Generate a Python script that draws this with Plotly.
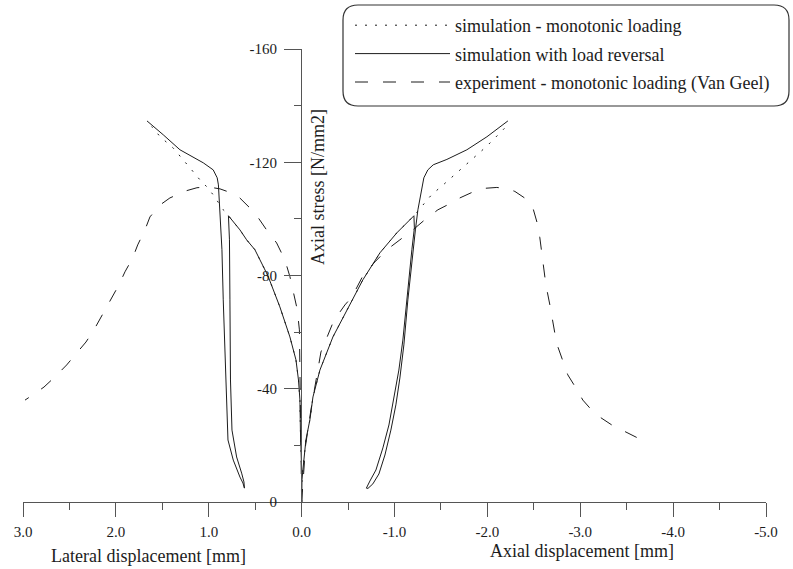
import plotly.graph_objects as go

# ---------------- data (displacement [mm], axial stress [N/mm2]) ----------------
# simulation with load reversal - lateral side (loading, unloading, reloading)
rev_lat_x = [0.0, 0.0, 0.013, 0.018, 0.034, 0.061, 0.126, 0.234, 0.363, 0.503, 0.592, 0.664, 0.788,
             0.777, 0.772, 0.766, 0.750, 0.700, 0.646, 0.621, 0.616,
             0.632, 0.664, 0.736, 0.793, 0.807, 0.831, 0.844, 0.858, 0.872, 0.885, 0.896, 0.909,
             0.952, 1.059, 1.310, 1.490, 1.665]
rev_lat_y = [0, -11.3, -25.4, -36.0, -43.1, -50.2, -58.3, -68.9, -79.9, -89.1, -92.6, -96.1, -101.1,
             -92.6, -71.4, -43.1, -25.4, -15.9, -10.2, -7.1, -4.9,
             -6.7, -8.8, -14.8, -21.9, -36.0, -53.7, -71.4, -89.1, -99.7, -106.7, -112.0, -114.5,
             -117.3, -119.8, -124.4, -129.7, -134.6]
# simulation with load reversal - axial side
rev_ax_x = [0.0, -0.003, -0.046, -0.089, -0.122, -0.154, -0.197, -0.337, -0.488, -0.660, -0.843, -1.026, -1.209,
            -1.214, -1.187, -1.144, -1.090, -1.047, -0.993, -0.940, -0.875, -0.800, -0.735, -0.697,
            -0.714, -0.767, -0.832, -0.897, -0.961, -1.015, -1.058, -1.101, -1.144, -1.187, -1.225,
            -1.252, -1.284, -1.316, -1.359, -1.417, -1.564, -1.779, -1.995, -2.221]
rev_ax_y = [0, -7.8, -21.9, -29.0, -37.1, -41.3, -46.6, -58.3, -67.8, -78.5, -88.0, -95.1, -101.1,
            -96.8, -89.1, -74.9, -57.2, -46.6, -36.0, -27.2, -19.1, -11.3, -7.4, -4.9,
            -4.8, -6.4, -9.9, -16.6, -25.4, -34.3, -43.8, -55.5, -71.4, -85.5, -96.1,
            -103.2, -109.5, -114.5, -117.3, -119.1, -121.0, -124.4, -129.0, -134.6]

# simulation - monotonic loading
mono_lat_x = [0.0, 0.0, 0.013, 0.018, 0.034, 0.061, 0.126, 0.234, 0.363, 0.503, 0.592, 0.664, 0.788,
              0.807, 0.844, 0.952, 1.023, 1.095, 1.184, 1.275, 1.382, 1.525, 1.615]
mono_lat_y = [0, -11.3, -25.4, -36.0, -43.1, -50.2, -58.3, -68.9, -79.9, -89.1, -92.6, -96.1, -101.1,
              -102.1, -103.2, -108.5, -111.4, -113.8, -117.3, -120.9, -125.0, -129.1, -132.6]
mono_ax_x = [0.0, -0.003, -0.046, -0.089, -0.122, -0.154, -0.197, -0.337, -0.488, -0.660, -0.843, -1.026, -1.209,
             -1.292, -1.399, -1.524, -1.668, -1.847, -1.991, -2.170, -2.210]
mono_ax_y = [0, -7.8, -21.9, -29.0, -37.1, -41.3, -46.6, -58.3, -67.8, -78.5, -88.0, -95.1, -101.1,
             -104.4, -108.5, -112.0, -116.2, -121.1, -125.6, -131.5, -132.9]

# experiment - monotonic loading (Van Geel)
exp_lat_x = [0.0, 0.013, 0.018, 0.024, 0.040, 0.054, 0.094, 0.126, 0.180, 0.269, 0.377, 0.503, 0.700,
             0.879, 1.009, 1.127, 1.245, 1.418, 1.525, 1.633, 1.687, 1.765, 1.819, 1.902, 1.967,
             2.045, 2.153, 2.236, 2.322, 2.429, 2.530, 2.656, 2.774, 2.896, 2.978]
exp_lat_y = [0, -29.0, -50.2, -60.8, -65.7, -69.0, -74.9, -79.6, -85.5, -91.5, -96.1, -102.1, -108.5,
             -110.6, -111.3, -111.0, -109.9, -107.4, -104.9, -100.7, -96.1, -90.8, -86.2, -81.3, -76.7,
             -72.1, -65.4, -60.8, -56.5, -52.3, -48.4, -44.2, -40.6, -37.8, -36.0]
exp_ax_x = [0.0, -0.043, -0.100, -0.154, -0.208, -0.261, -0.337, -0.391, -0.466, -0.541, -0.660, -0.789,
            -0.918, -1.058, -1.187, -1.327, -1.467, -1.575, -1.704, -1.844, -1.973, -2.102, -2.221,
            -2.296, -2.414, -2.490, -2.536, -2.565, -2.587, -2.608, -2.630, -2.673, -2.694, -2.726,
            -2.759, -2.813, -2.866, -2.953, -3.028, -3.103, -3.211, -3.340, -3.448, -3.534, -3.620]
exp_ax_y = [0, -20.1, -32.5, -43.1, -53.0, -57.2, -63.3, -66.1, -69.6, -72.4, -79.9, -84.8,
            -89.1, -92.6, -95.8, -99.7, -103.2, -105.0, -107.4, -109.5, -110.8, -111.1, -110.6,
            -109.7, -107.1, -103.9, -98.6, -93.3, -87.3, -82.7, -76.7, -69.6, -65.4, -59.7,
            -54.8, -49.5, -44.9, -40.3, -36.0, -33.2, -30.0, -27.2, -25.4, -24.0, -22.6]

x_tick_vals = [3, 2, 1, 0, -1, -2, -3, -4, -5]
x_tick_text = ["3.0", "2.0", "1.0", "0.0", "-1.0", "-2.0", "-3.0", "-4.0", "-5.0"]
y_tick_vals = [0, -40, -80, -120, -160]
y_tick_text = ["0", "-40", "-80", "-120", "-160"]

names = ["simulation - monotonic loading",
         "simulation with load reversal",
         "experiment - monotonic loading (Van Geel)"]

# ---------------- figure ----------------
FONT = "Liberation Serif, Times New Roman, serif"
INK = "#1c1c1c"
AX = "#555555"

fig = go.Figure()

def add(xs, ys, name, dash, show):
    fig.add_trace(go.Scatter(x=xs, y=ys, mode="lines", name=name, legendgroup=name,
                             showlegend=show, line=dict(color=INK, width=1, dash=dash),
                             hoverinfo="skip"))

add(mono_lat_x, mono_lat_y, names[0], "2px,8px", True)
add(mono_ax_x, mono_ax_y, names[0], "2px,8px", False)
add(rev_lat_x, rev_lat_y, names[1], "solid", True)
add(rev_ax_x, rev_ax_y, names[1], "solid", False)
add(exp_lat_x, exp_lat_y, names[2], "13px,15px", True)
add(exp_ax_x, exp_ax_y, names[2], "13px,15px", False)

W, H = 793, 569
L, R, T, B = 23, 27, 49, 67
pw, ph = W - L - R, H - T - B

def px(xp):
    return (xp - L) / pw

def py(yp):
    return (H - B - yp) / ph

# rounded legend frame
x0, x1, yt, yb = px(343), px(789), py(5), py(106)
rx, ry = 15 / pw, 15 / ph
path = (f"M {x0+rx},{yt} L {x1-rx},{yt} Q {x1},{yt} {x1},{yt-ry} L {x1},{yb+ry} "
        f"Q {x1},{yb} {x1-rx},{yb} L {x0+rx},{yb} Q {x0},{yb} {x0},{yb+ry} "
        f"L {x0},{yt-ry} Q {x0},{yt} {x0+rx},{yt} Z")

fig.update_layout(
    width=W, height=H,
    margin=dict(l=L, r=R, t=T, b=B, autoexpand=False),
    paper_bgcolor="white", plot_bgcolor="white",
    font=dict(family=FONT, size=15, color=INK),
    showlegend=True,
    legend=dict(x=px(350), y=py(7), xanchor="left", yanchor="top",
                bgcolor="rgba(0,0,0,0)", borderwidth=0,
                font=dict(family=FONT, size=18, color=INK),
                itemwidth=95, tracegroupgap=2),
    shapes=[dict(type="path", path=path, xref="paper", yref="paper",
                 line=dict(color="#333333", width=1.2), layer="above")],
    xaxis=dict(range=[3, -5], showgrid=False, zeroline=False,
               showline=True, linecolor=AX, linewidth=1,
               tickmode="array", tickvals=x_tick_vals, ticktext=x_tick_text,
               ticks="outside", ticklen=14, tickcolor=AX, tickwidth=1,
               ticklabelstandoff=2,
               minor=dict(dtick=0.5, tick0=0, ticks="outside", ticklen=7, tickcolor=AX, tickwidth=1),
               tickfont=dict(family=FONT, size=15, color=INK)),
    yaxis=dict(range=[0, -160], showgrid=False, zeroline=False,
               anchor="free", position=px(301),
               showline=True, linecolor=AX, linewidth=1,
               tickmode="array", tickvals=y_tick_vals, ticktext=y_tick_text,
               ticks="outside", ticklen=17, tickcolor=AX, tickwidth=1,
               ticklabelstandoff=4,
               minor=dict(dtick=20, tick0=0, ticks="outside", ticklen=7, tickcolor=AX, tickwidth=1),
               tickfont=dict(family=FONT, size=15, color=INK)),
    annotations=[
        dict(text="Axial stress [N/mm2]", xref="paper", yref="paper", x=px(318), y=py(187),
             textangle=-90, showarrow=False, font=dict(family=FONT, size=18, color=INK),
             xanchor="center", yanchor="middle"),
        dict(text="Lateral displacement [mm]", xref="paper", yref="paper", x=px(148), y=py(556),
             showarrow=False, font=dict(family=FONT, size=18, color=INK),
             xanchor="center", yanchor="middle"),
        dict(text="Axial displacement [mm]", xref="paper", yref="paper", x=px(582), y=py(551),
             showarrow=False, font=dict(family=FONT, size=18, color=INK),
             xanchor="center", yanchor="middle"),
    ],
)

fig.write_html("out.html")
